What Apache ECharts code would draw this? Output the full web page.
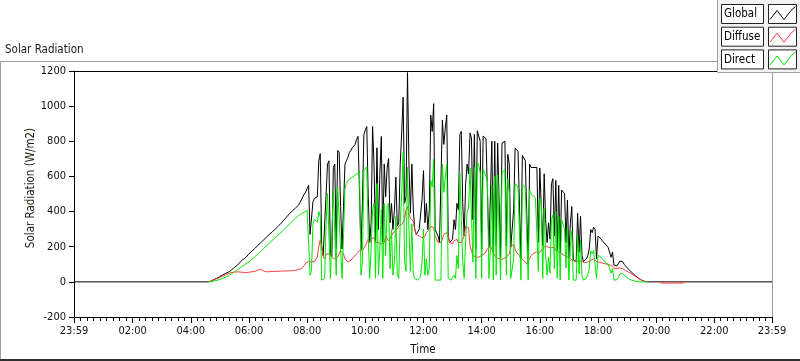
<!DOCTYPE html>
<html><head><meta charset="utf-8">
<script src="https://cdn.jsdelivr.net/npm/echarts@6/dist/echarts.min.js"></script>
<style>html,body{margin:0;padding:0;background:#fff;overflow:hidden}#c{width:800px;height:361px}</style>
</head><body><div id="c"></div>
<script>
const FONT = "'DejaVu Sans Condensed','DejaVu Sans',sans-serif";
const titleText = 'Solar Radiation';
const yAxisTitle = 'Solar Radiation (W/m2)';
const xAxisTitle = 'Time';
const seriesNames = ['Global', 'Diffuse', 'Direct'];
const seriesColors = ['#000000', '#ff3b3b', '#00e800'];
// time axis in minutes after midnight; 23:59 of previous day = -1
const xMin = -1, xMax = 1439;
const majorTickMinutes = [-1, 120, 240, 360, 480, 600, 720, 840, 960, 1080, 1200, 1320, 1439];
const yMin = -200, yMax = 1200, yStep = 200;
// samples every 3 minutes starting 04:30
const startMin = 270, stepMin = 3;

const globalVals = [
0,0,0,2,5,9,13,17,21,26,
30,35,40,44,48,52,56,62,68,75,
82,88,95,104,113,120,128,136,140,150,
160,167,175,184,190,198,207,215,222,231,
238,246,254,262,270,277,285,292,300,307,
316,325,333,342,352,360,370,380,390,398,
405,412,420,428,436,
451,466,484,499,512,531,549,270,270,456,
475,475,484,689,730,205,150,140,494,670,
689,160,145,651,670,187,748,736,428,187,
428,670,689,707,736,748,763,772,782,810,
828,838,185,447,838,865,884,484,224,336,
884,670,230,763,298,615,828,225,670,
484,648,702,336,447,298,410,596,317,336,
670,847,1051,447,484,1191,670,391,670,410,
298,270,261,298,289,466,633,336,447,298,
410,949,856,1014,298,289,261,224,224,921,
782,875,949,261,224,215,243,354,298,447,
410,838,856,447,261,559,670,615,
847,819,354,840,187,860,850,800,187,830,
820,815,810,196,484,800,168,800,205,790,
800,135,790,785,800,205,726,670,196,187,
410,760,760,745,740,131,720,710,690,700,
100,670,651,661,651,642,651,224,648,642,
205,615,354,224,336,243,559,587,261,
577,180,549,165,522,512,503,224,466,135,
336,428,125,118,115,391,168,373,150,115,
110,131,150,187,298,280,311,298,131,261,
257,245,233,224,215,205,196,187,140,170,
95,92,90,100,118,125,115,100,90,80,
72,64,56,48,40,33,26,20,15,10,
6,3,
1,0,0,0,0,0,0,0,0,0,
0,0,0,0,0,0,0,0,0,0,
0,0,0,0,0,0,0,0,0
];

const diffuseVals = [
null,null,0,2,5,8,12,15,18,22,
25,28,33,37,41,45,48,51,53,55,
55,55,57,57,56,55,54,53,53,54,
55,56,57,58,60,62,66,70,72,68,
62,58,57,57,58,58,59,59,60,60,
60,61,61,61,62,62,62,62,63,63,
64,65,66,68,70,
66,75,85,94,107,113,116,122,113,113,
116,122,141,200,240,200,145,130,159,168,
159,148,138,131,131,141,141,150,178,178,
159,131,122,113,113,122,131,141,150,159,
168,178,178,178,187,205,224,243,224,243,
243,252,224,215,224,224,215,220,224,
261,252,233,224,261,280,289,289,298,317,
317,326,336,354,410,428,391,363,354,345,
298,270,261,261,261,252,252,261,280,289,
298,317,317,308,261,243,224,215,224,243,
270,280,280,261,224,215,215,233,243,243,
224,215,224,233,261,317,308,308,
205,178,150,141,141,141,141,150,150,150,
159,168,187,196,205,205,168,150,141,135,
131,127,127,131,135,141,141,159,196,185,
215,187,168,159,150,131,127,122,113,103,
98,131,150,159,164,168,171,171,168,178,
190,196,205,196,196,187,196,205,196,
178,171,168,159,159,154,150,141,141,131,
131,127,122,116,113,116,120,122,116,113,
109,107,113,116,122,122,131,122,116,113,
111,109,107,105,103,101,98,96,94,92,
78,76,75,78,80,78,74,70,65,60,
56,52,47,42,36,30,25,19,14,10,
6,3,
1,0,null,null,null,null,null,null,null,0,
-7,-7,-7,-7,-7,-7,-7,-7,-7,-7,
-7,-7,-7,-7,-7,-7,-7,0,null
];

const directVals = [
null,null,0,0,1,3,5,7,9,12,
14,17,20,24,27,31,35,40,46,52,
58,63,68,74,80,86,91,97,103,108,
114,121,128,136,143,150,158,165,173,181,
189,197,205,213,221,228,236,243,251,258,
266,273,281,289,297,305,313,322,330,338,
346,354,362,370,377,
382,388,392,397,401,406,410,38,66,330,
355,350,340,400,373,10,10,20,330,502,
512,20,10,522,531,38,540,540,187,20,
261,530,560,577,586,590,596,600,605,614,
623,628,38,113,633,642,655,261,20,187,
410,447,20,559,38,187,410,20,447,
150,428,447,75,298,38,113,373,38,20,
336,500,735,113,60,651,300,60,330,38,
20,10,10,20,29,113,298,38,131,38,
75,577,540,700,10,10,10,10,10,670,
510,595,670,20,10,10,10,38,20,150,
75,620,630,113,20,240,400,420,
650,640,113,650,20,680,665,620,20,640,
620,600,575,20,187,550,10,600,38,610,
620,10,620,609,640,38,585,500,20,20,
131,560,550,540,540,10,552,548,538,540,
10,520,500,495,487,475,478,60,475,460,
20,420,150,38,140,50,354,380,75,
401,20,373,10,354,350,300,80,320,10,
200,290,10,10,10,270,45,240,35,10,
10,20,38,75,175,160,180,175,20,150,
146,142,130,120,113,105,100,92,50,75,
10,10,12,25,45,55,48,38,30,24,
18,14,10,7,5,3,2,1,0,0,
0,0,
0,0,null,null,null,null,null,null,null,null,
null,null,null,null,null,null,null,null,null,null,
null,null,null,null,null,null,null,null,null
];

function toPairs(vals) { return vals.map((v, i) => [startMin + stepMin * i, v]); }
const globalData = [[xMin, 0]].concat(toPairs(globalVals), [[xMax, 0]]);
const diffuseData = toPairs(diffuseVals);
const directData = toPairs(directVals);

const minorTickMinutes = [];
for (let k = 0; k < majorTickMinutes.length - 1; k++) {
  const a = majorTickMinutes[k], b = majorTickMinutes[k + 1];
  for (let j = 1; j <= 8; j++) minorTickMinutes.push(a + (b - a) * j / 9);
}
function pad(n) { return (n < 10 ? '0' : '') + n; }
function fmtTime(v) {
  if (v <= xMin || v >= xMax) return '23:59';
  const h = Math.floor(v / 60), m = Math.round(v % 60);
  return pad(h) + ':' + pad(m);
}

const chart = echarts.init(document.getElementById('c'), null, { renderer: 'canvas' });
const txt = { color: '#111', fontFamily: FONT, fontSize: 11 };

const legendGraphics = [
  { type: 'rect', z: 100, shape: { x: 717.5, y: -1, width: 84, height: 73.5 }, style: { fill: '#f3f3f3', stroke: '#a0a0a0', lineWidth: 1 } }
];
seriesNames.forEach((name, i) => {
  const top = 4.5 + i * 22.7;
  legendGraphics.push(
    { type: 'rect', z: 101, shape: { x: 721.5, y: top, width: 42, height: 19 }, style: { fill: '#fff', stroke: '#222', lineWidth: 1 } },
    { type: 'text', z: 102, x: 724, y: top + 10, style: { text: name, fill: '#000', fontFamily: FONT, fontSize: 11.5, align: 'left', verticalAlign: 'middle' } },
    { type: 'rect', z: 101, shape: { x: 768.5, y: top, width: 28, height: 19 }, style: { fill: '#fff', stroke: '#222', lineWidth: 1 } },
    { type: 'polyline', z: 102, shape: { points: [[770, top + 15], [777, top + 6], [784, top + 15], [791, top + 6], [795.5, top + 2]] }, style: { stroke: seriesColors[i], fill: null, lineWidth: 1 } }
  );
});

chart.setOption({
  animation: false,
  backgroundColor: '#fff',
  title: { text: titleText, left: 5, top: 44, padding: 0, textStyle: { fontFamily: FONT, fontSize: 11.5, fontWeight: 'normal', color: '#1a1a1a' } },
  grid: { left: 74, right: 28, top: 71, bottom: 39, containLabel: false },
  xAxis: [
    { type: 'value', min: xMin, max: xMax, position: 'bottom',
      axisLine: { show: true, onZero: false, lineStyle: { color: '#000', width: 1 } },
      axisTick: { show: true, length: 6, customValues: majorTickMinutes, lineStyle: { color: '#000' } },
      axisLabel: Object.assign({ customValues: majorTickMinutes, formatter: fmtTime, margin: 9 }, txt),
      splitLine: { show: false },
      name: xAxisTitle, nameLocation: 'middle', nameGap: 27, nameTextStyle: Object.assign({}, txt, { fontSize: 11.5 }) },
    { type: 'value', min: xMin, max: xMax, position: 'bottom',
      axisLine: { show: false, onZero: false },
      axisTick: { show: true, length: 4, customValues: minorTickMinutes, lineStyle: { color: '#000' } },
      axisLabel: { show: false }, splitLine: { show: false } },
    { type: 'value', min: xMin, max: xMax, position: 'top',
      axisLine: { show: true, onZero: false, lineStyle: { color: '#000' } },
      axisTick: { show: false }, axisLabel: { show: false }, splitLine: { show: false } }
  ],
  yAxis: [
    { type: 'value', min: yMin, max: yMax, interval: yStep, position: 'left',
      axisLine: { show: true, onZero: false, lineStyle: { color: '#000' } },
      axisTick: { show: true, length: 5, lineStyle: { color: '#000' } },
      axisLabel: Object.assign({ margin: 8, formatter: v => String(v) }, txt),
      splitLine: { show: false } },
    { type: 'value', min: yMin, max: yMax, interval: yStep, position: 'right',
      axisLine: { show: true, onZero: false, lineStyle: { color: '#9a9a9a' } },
      axisTick: { show: false }, axisLabel: { show: false }, splitLine: { show: false } }
  ],
  graphic: [
    { type: 'line', shape: { x1: 0, y1: 61.5, x2: 718, y2: 61.5 }, style: { stroke: '#a0a0a0', lineWidth: 1 } },
    { type: 'line', shape: { x1: 0.5, y1: 61, x2: 0.5, y2: 361 }, style: { stroke: '#a0a0a0', lineWidth: 1 } },
    { type: 'line', shape: { x1: 0, y1: 360, x2: 800, y2: 360 }, style: { stroke: '#303030', lineWidth: 2 } },
    { type: 'text', x: 31, y: 188, rotation: Math.PI / 2,
      style: { text: yAxisTitle, fill: '#2a2010', fontFamily: FONT, fontSize: 11.5, align: 'center', verticalAlign: 'middle' } }
  ].concat(legendGraphics),
  series: [
    { name: seriesNames[0], type: 'line', data: globalData, showSymbol: false, symbol: 'none', xAxisIndex: 0, yAxisIndex: 0,
      lineStyle: { color: seriesColors[0], width: 1 }, itemStyle: { color: seriesColors[0] }, z: 2 },
    { name: seriesNames[1], type: 'line', data: diffuseData, showSymbol: false, symbol: 'none', xAxisIndex: 0, yAxisIndex: 0,
      lineStyle: { color: seriesColors[1], width: 1 }, itemStyle: { color: seriesColors[1] }, z: 3 },
    { name: seriesNames[2], type: 'line', data: directData, showSymbol: false, symbol: 'none', xAxisIndex: 0, yAxisIndex: 0,
      lineStyle: { color: seriesColors[2], width: 1 }, itemStyle: { color: seriesColors[2] }, z: 4 }
  ]
});
</script></body></html>
